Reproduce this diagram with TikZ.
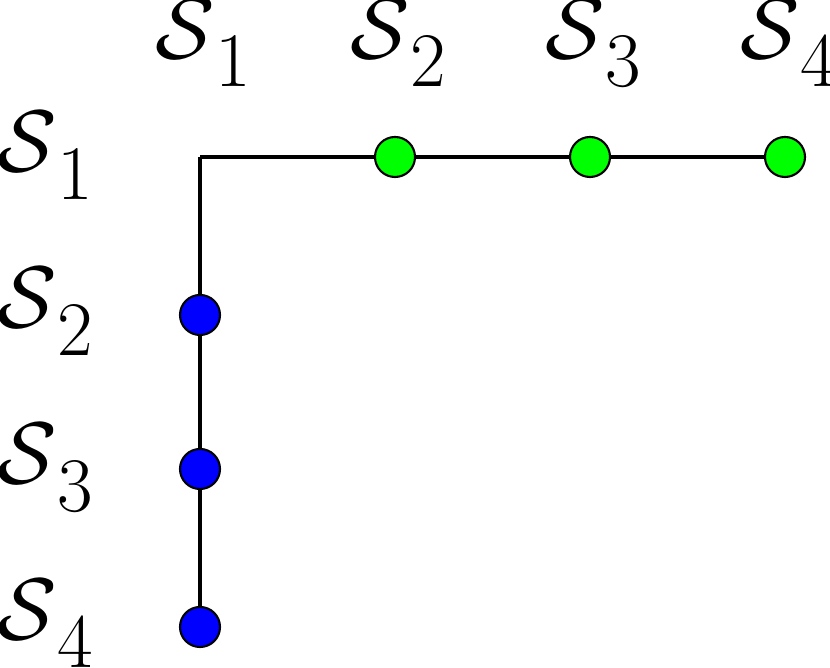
\documentclass[tikz,border=0pt]{standalone}
\newcommand\slab[1]{$\mathcal{S}$\raisebox{-6.5pt}{\fontsize{18.3}{22}\selectfont #1}}
\begin{document}
\begin{tikzpicture}[x=0.01cm,y=-0.01cm,
  dotg/.style={circle,draw=black,line width=0.6pt,fill=green,minimum size=0.4cm,inner sep=0pt},
  dotb/.style={circle,draw=black,line width=0.6pt,fill=blue,minimum size=0.4cm,inner sep=0pt},
  conn/.style={line width=0.9pt},
  lab/.style={inner sep=0pt,anchor=base west,scale=1.2,transform shape,font=\fontsize{21}{25}\selectfont}]
\useasboundingbox (0,0) rectangle (830,668);
\coordinate (c) at (200,157);
\node[dotg] (g2) at (395,157) {};
\node[dotg] (g3) at (590,157) {};
\node[dotg] (g4) at (785,157) {};
\node[dotb] (b2) at (200,315) {};
\node[dotb] (b3) at (200,469) {};
\node[dotb] (b4) at (200,627) {};
\draw[conn] (c) -- (g2) (g2) -- (g3) (g3) -- (g4);
\draw[conn] (c) -- (b2) (b2) -- (b3) (b3) -- (b4);
\node[lab] (t1) at (155,59) {\slab{1}};
\node[lab] (t2) at (350,59) {\slab{2}};
\node[lab] (t3) at (545,59) {\slab{3}};
\node[lab] (t4) at (740,59) {\slab{4}};
\node[lab] (r1) at (-3,172) {\slab{1}};
\node[lab] (r2) at (-3,328) {\slab{2}};
\node[lab] (r3) at (-3,484) {\slab{3}};
\node[lab] (r4) at (-3,640) {\slab{4}};
\end{tikzpicture}
\end{document}
